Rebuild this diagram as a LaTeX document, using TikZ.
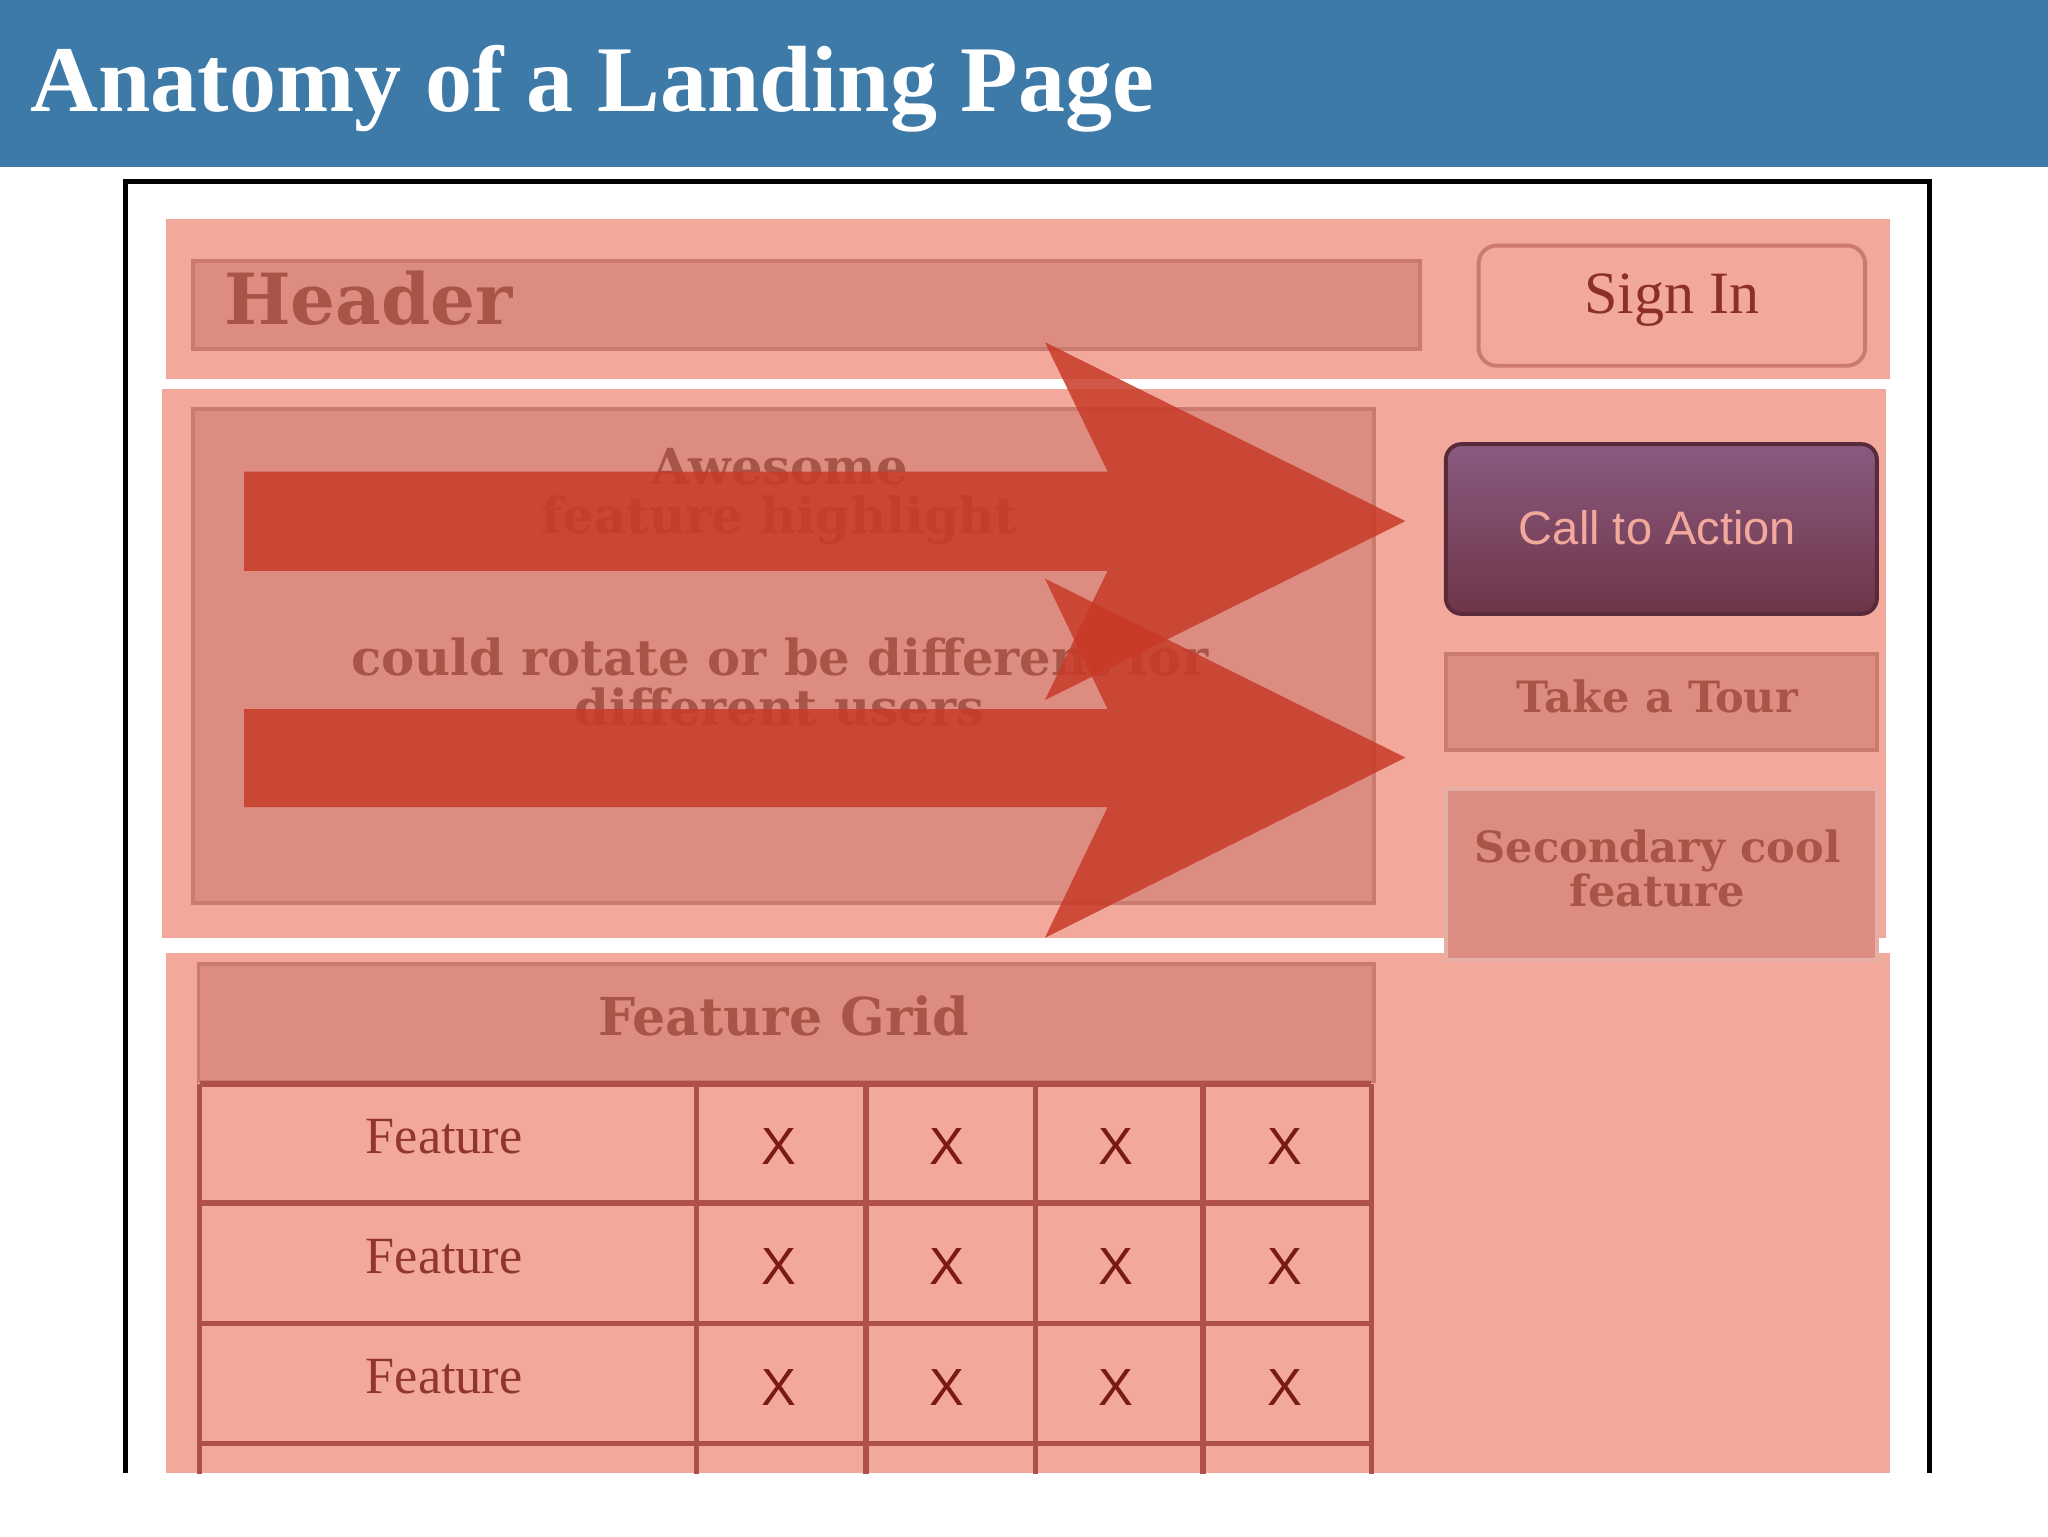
\documentclass[tikz,border=0pt]{standalone}
\usepackage{fontspec}
\setmainfont{DejaVu Serif}
\newfontfamily\titlefont{Liberation Serif}
\newfontfamily\ctafont{Liberation Sans}
\usetikzlibrary{shapes.geometric}
\definecolor{titlebg}{HTML}{3D7AA8}
\definecolor{band}{HTML}{F3A89C}
\definecolor{inner}{HTML}{DC8C80}
\definecolor{innerline}{HTML}{CB7A6E}
\definecolor{txt}{HTML}{A85548}
\definecolor{arrowred}{HTML}{C83A28}
\definecolor{gridline}{HTML}{B0504A}
\definecolor{xcol}{HTML}{7A1A10}
\definecolor{ctatop}{HTML}{8A5A80}
\definecolor{ctabot}{HTML}{6E3548}
\tikzset{
  bandbox/.style={fill=band,draw=none},
  innerbox/.style={fill=inner,draw=innerline,line width=3pt},
  lbl/.style={text=txt,font=\bfseries\fontsize{38}{44}\selectfont,align=center},
  cell/.style={text=xcol,font=\ctafont\fontsize{40}{44}\selectfont},
  feat/.style={text=xcol!80!band,font=\titlefont\fontsize{40}{44}\selectfont},
  bigarrow/.style={fill=arrowred,fill opacity=0.85,draw=none}
}
\begin{document}
\begin{tikzpicture}[x=1pt,y=-1pt]
\useasboundingbox (0,0) rectangle (1568,1176);
\fill[white] (0,0) rectangle (1568,1176);
% title
\fill[titlebg] (0,0) rectangle (1568,128);
\node[anchor=base west,text=white,font=\titlefont\bfseries\fontsize{72}{80}\selectfont] (title) at (20,85) {Anatomy of a Landing Page};
% frame
\draw[line width=4pt] (96,1128) -- (96,139) -- (1477,139) -- (1477,1128);
% header band
\fill[band] (127,168) rectangle (1447,290);
\draw[innerbox] (148,200) rectangle (1087,267);
\node[anchor=west,text=txt,font=\bfseries\fontsize{54}{60}\selectfont] (hdr) at (168,228) {Header};
\draw[fill=band,draw=innerline,line width=3pt,rounded corners=14pt] (1132,188) rectangle (1428,280);
\node[text=xcol!85!band,font=\titlefont\fontsize{46}{50}\selectfont] (signin) at (1280,230) {Sign In};
% hero band
\fill[band] (124,298) rectangle (1444,718);
\draw[innerbox] (148,313) rectangle (1052,691);
\node[lbl] (awe) at (597,380) {Awesome\\[-6pt]feature highlight};
\node[lbl] (rot) at (597,522) {could rotate or be different for\\[-6pt]different users};
% arrows
\fill[bigarrow] (187,361) -- (848,361) -- (800,262) -- (1076,399) -- (800,536) -- (848,437) -- (187,437) -- cycle;
\fill[bigarrow] (187,543) -- (848,543) -- (800,443) -- (1076,580) -- (800,718) -- (848,618) -- (187,618) -- cycle;
% CTA
\shade[top color=ctatop,bottom color=ctabot,rounded corners=12pt] (1107,340) rectangle (1437,470);
\draw[draw=ctabot!80!black,line width=3pt,rounded corners=12pt] (1107,340) rectangle (1437,470);
\node[text=band,font=\ctafont\fontsize{36}{40}\selectfont] (cta) at (1269,404) {Call to Action};
\draw[innerbox] (1107,501) rectangle (1437,574);
\node[lbl,font=\bfseries\fontsize{33}{38}\selectfont] (tour) at (1269,533) {Take a Tour};
% lower band
\fill[band] (127,730) rectangle (1447,1128);
\draw[innerbox,draw=inner!70!white] (1107,604) rectangle (1437,735);
\node[lbl,font=\bfseries\fontsize{33}{38}\selectfont] (sec) at (1269,665) {Secondary cool\\[-4pt]feature};
\draw[innerbox] (152,738) rectangle (1052,828);
\node[lbl,font=\bfseries\fontsize{40}{44}\selectfont] (fg) at (600,778) {Feature Grid};
% grid
\begin{scope}
\clip (140,820) rectangle (1060,1128);
\foreach \x in {153,533,663,793,921,1050} \draw[gridline,line width=4pt] (\x,830) -- (\x,1140);
\foreach \y in {830,921,1013,1105} \draw[gridline,line width=4pt] (153,\y) -- (1050,\y);
\end{scope}
\foreach \y/\n in {870/1,962/2,1054/3}{
  \node[feat] (f\n) at (340,\y) {Feature};
  \foreach \x/\m in {596/a,725/b,854/c,984/d} \node[cell] (x\n\m) at (\x,\y+8) {X};
}
\end{tikzpicture}
\end{document}
